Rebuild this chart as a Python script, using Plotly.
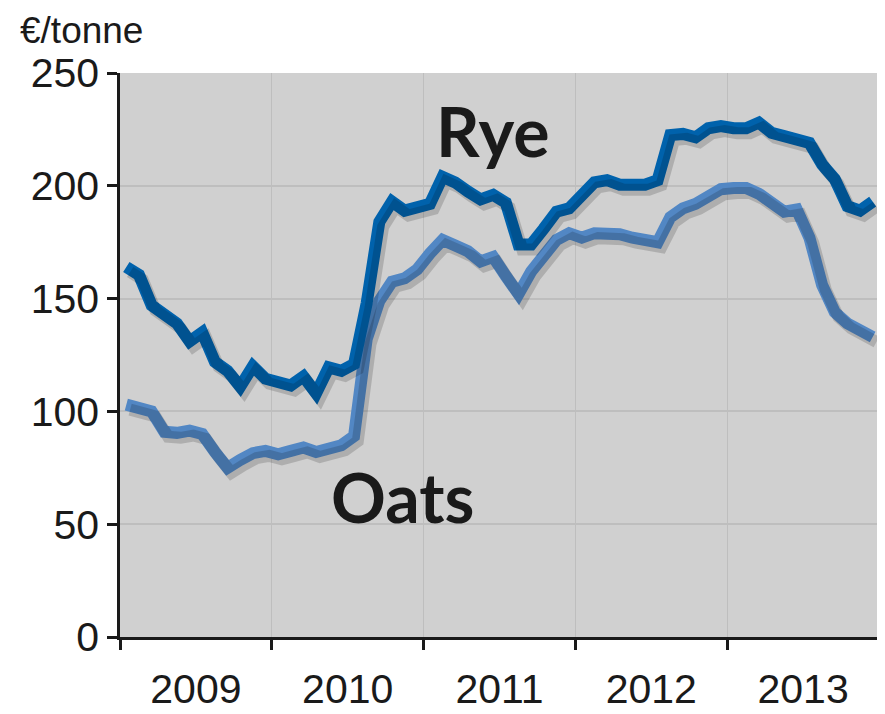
import plotly.graph_objects as go

# ---- data ----
years = ["2009", "2010", "2011", "2012", "2013"]
months = [f"{y}-{m:02d}" for y in range(2009, 2014) for m in range(1, 13)]
month_idx = list(range(len(months)))

rye = [164, 160.5, 147, 143.5, 139, 131, 135, 122, 118, 111,
       120, 114.5, 113, 111.5, 115.5, 108, 119.5, 118, 121, 148,
       184, 193, 189, 191, 192, 204, 201.5, 197.5, 194, 196,
       192.5, 174, 174, 181, 188.5, 190, 196.5, 201.5, 202.5, 200.5,
       200.5, 200.5, 202.5, 222.5, 223, 221.5, 225.5, 226.5, 225.5, 225.5,
       228, 223.5, 222, 221, 219, 209.5, 203, 191, 189, 193]
oats = [103, 101, 100, 91, 90.5, 91.5, 90, 82, 75, 78.5,
        81.5, 82.5, 81, 82.5, 84, 82, 83.5, 85, 89, 132,
        149, 157.5, 159, 163, 170, 176, 173.5, 171, 166.5, 168.5,
        160, 152, 162, 169, 176, 179, 177, 179, 179, 178.5,
        177, 175.5, 175, 186, 190, 192, 195.5, 198.5, 199, 199,
        196.5, 192.5, 188.5, 189.5, 177, 156, 144, 139, 136, 133]
y_ticks = [0, 50, 100, 150, 200, 250]

RYE_COLOR = "#0062AC"
OATS_COLOR = "#5287C4"
TEXT = "#1a1a1a"
AXIS_FONT = "Liberation Sans, Arial, sans-serif"
LABEL_FONT = "Lato, Open Sans, sans-serif"

n = len(months)
x_range = [-0.5, n - 0.5]
y_range = [0, 250]
year_centers = [5.5 + 12 * k for k in range(len(years))]
year_bounds = [-0.5 + 12 * k for k in range(len(years) + 1)]

fig = go.Figure()

# soft shadows on an overlaid, slightly shifted axis pair
sx, sy = 0.3, 2.2
for vals in (oats, rye):
    fig.add_trace(go.Scatter(
        x=month_idx, y=vals, mode="lines", xaxis="x2", yaxis="y2",
        line=dict(color="rgba(0,0,0,0.16)", width=12),
        hoverinfo="skip", showlegend=False))

fig.add_trace(go.Scatter(x=month_idx, y=oats, mode="lines", name="Oats",
                         text=months, line=dict(color=OATS_COLOR, width=12),
                         showlegend=False))
fig.add_trace(go.Scatter(x=month_idx, y=rye, mode="lines", name="Rye",
                         text=months, line=dict(color=RYE_COLOR, width=12),
                         showlegend=False))

# the page body adds an 8px margin, so the figure is sized to fit inside it
fig.update_layout(
    width=877, height=706,
    margin=dict(l=112, r=6, t=65, b=77),
    paper_bgcolor="white",
    plot_bgcolor="#D0D0D0",
    xaxis=dict(
        range=x_range, tickmode="array", tickvals=year_centers, ticktext=years,
        ticks="outside", ticklen=14, tickcolor="rgba(0,0,0,0)",
        showgrid=False, zeroline=False, automargin=False,
        showline=True, linecolor=TEXT, linewidth=2.5,
        tickfont=dict(family=AXIS_FONT, size=41, color=TEXT),
        minor=dict(tickmode="array", tickvals=year_bounds, ticks="outside",
                   ticklen=10, tickwidth=2.5, tickcolor=TEXT,
                   showgrid=True, gridcolor="#BEBEBE", gridwidth=1.3),
    ),
    yaxis=dict(
        range=y_range, tickmode="array", tickvals=y_ticks,
        ticks="outside", ticklen=10, tickwidth=2.5, tickcolor=TEXT,
        showgrid=True, gridcolor="#BEBEBE", gridwidth=1.5, zeroline=False,
        automargin=False,
        showline=True, linecolor=TEXT, linewidth=2.5,
        tickfont=dict(family=AXIS_FONT, size=41, color=TEXT),
    ),
    xaxis2=dict(range=[x_range[0] - sx, x_range[1] - sx], overlaying="x",
                visible=False),
    yaxis2=dict(range=[y_range[0] + sy, y_range[1] + sy], overlaying="y",
                visible=False),
    annotations=[
        dict(text="€/tonne", xref="paper", yref="paper", x=-0.135, y=1.076,
             xanchor="left", yanchor="middle", showarrow=False,
             font=dict(family=AXIS_FONT, size=37, color=TEXT)),
        dict(text="<b>Rye</b>", xref="x", yref="y", x=29.0, y=224.5,
             showarrow=False, xanchor="center", yanchor="middle",
             font=dict(family=LABEL_FONT, size=68, color=TEXT)),
        dict(text="<b>Oats</b>", xref="x", yref="y", x=21.85, y=62.3,
             showarrow=False, xanchor="center", yanchor="middle",
             font=dict(family=LABEL_FONT, size=68, color=TEXT)),
    ],
)

fig.write_html("out.html")
